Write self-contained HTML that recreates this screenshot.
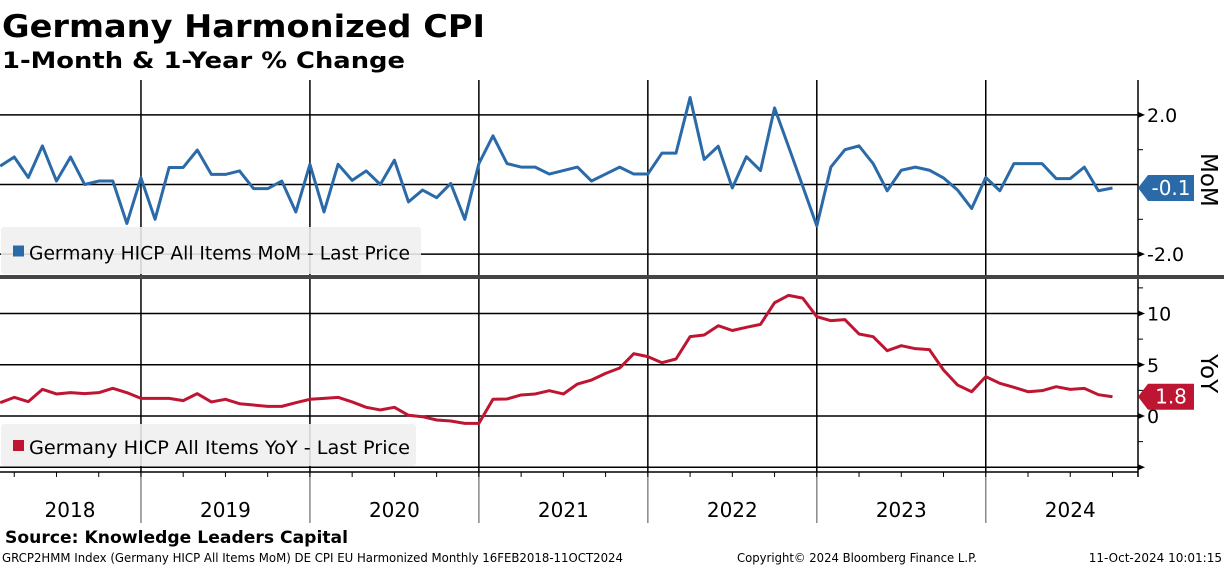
<!DOCTYPE html>
<html><head><meta charset="utf-8"><style>
body{margin:0;background:#fff;}
svg{display:block;font-family:"DejaVu Sans","Liberation Sans",sans-serif;}
</style></head><body>
<svg id="c" width="1224" height="566" xmlns="http://www.w3.org/2000/svg">
<text x="2" y="37" font-size="31" font-weight="bold" textLength="483" lengthAdjust="spacingAndGlyphs">Germany Harmonized CPI</text>
<text x="2" y="68" font-size="22" font-weight="bold" textLength="403" lengthAdjust="spacingAndGlyphs">1-Month &amp; 1-Year % Change</text>
<g id="grid"></g>
<g id="lines"></g>
<g id="overlay"></g>
<text x="5" y="543" font-size="17" font-weight="bold" textLength="343" lengthAdjust="spacingAndGlyphs">Source: Knowledge Leaders Capital</text>
<text x="2" y="562" font-size="12" textLength="621" lengthAdjust="spacingAndGlyphs">GRCP2HMM Index (Germany HICP All Items MoM) DE CPI EU Harmonized  Monthly 16FEB2018-11OCT2024</text>
<text x="737" y="562" font-size="12" textLength="240" lengthAdjust="spacingAndGlyphs">Copyright© 2024 Bloomberg Finance L.P.</text>
<text x="1222" y="562" font-size="12" text-anchor="end">11-Oct-2024 10:01:15</text>
</svg>
<script>
const years = ["2018","2019","2020","2021","2022","2023","2024"];
const momValues = [0.53,0.79,0.2,1.11,0.1,0.79,0.0,0.1,0.1,-1.12,0.19,-1.0,0.49,0.49,0.99,0.29,0.29,0.39,-0.12,-0.12,0.1,-0.79,0.58,-0.79,0.58,0.12,0.39,0.0,0.7,
-0.5,-0.16,-0.38,0.03,-1.0,0.6,1.4,0.6,0.5,0.5,0.3,0.4,0.5,0.1,0.3,0.5,0.3,0.3,0.9,0.9,2.5,0.72,1.1,-0.1,0.8,0.4,2.2,1.08,-0.05,-1.19,
0.5,1.0,1.11,0.6,-0.18,0.41,0.5,0.41,0.19,-0.16,-0.69,0.2,-0.18,0.6,0.6,0.6,0.17,0.17,0.5,-0.18,-0.1];
const yoyValues = [1.3,1.82,1.4,2.6,2.15,2.28,2.18,2.28,2.7,2.28,1.72,1.72,1.72,1.5,2.18,1.37,1.63,1.2,1.07,0.94,0.94,1.3,1.63,1.72,1.82,1.37,0.85,0.59,0.85,0.07,-0.07,-0.39,-0.49,-0.72,-0.72,1.63,
1.66,2.05,2.15,2.47,2.15,3.12,3.51,4.16,4.68,6.08,5.79,5.2,5.56,7.74,7.9,8.81,8.34,8.65,8.94,11.05,11.77,11.5,9.69,
9.3,9.4,8.0,7.74,6.37,6.86,6.57,6.47,4.49,3.02,2.37,3.84,3.19,2.8,2.37,2.47,2.86,2.6,2.7,2.08,1.88];
const momTicks = [2.0,-2.0];
const momTickLabels = ["2.0","-2.0"];
const yoyTicks = [10,5,0,-5];
const yoyTickLabels = ["10","5","0",""];
const momLast = "-0.1", yoyLast = "1.8";

const NS="http://www.w3.org/2000/svg";
function mk(p,t,a){const e=document.createElementNS(NS,t);for(const k in a)e.setAttribute(k,a[k]);p.appendChild(e);return e;}
const X0=-28, MW=14.08, AX=1138;
const xm = i => X0 + (i+2)*MW;
const yM = v => 184.5 - v*34.8;
const yY = v => 416 - v*10.25;
const grid=document.getElementById('grid'), lines=document.getElementById('lines'), ov=document.getElementById('overlay');

momTicks.concat([0]).forEach(v=>{const l=mk(grid,'line',{x1:0,x2:AX,y1:yM(v),y2:yM(v),stroke:'#000','stroke-width':1.5});

});
yoyTicks.forEach(v=>{const l=mk(grid,'line',{x1:0,x2:AX,y1:yY(v),y2:yY(v),stroke:'#000','stroke-width':1.5});

});
years.forEach((y,k)=>{
  const x=X0+k*12*MW;
  if(k>0){const l=mk(grid,'line',{x1:x,x2:x,y1:80,y2:472,stroke:'#000','stroke-width':1.5});
    
    
    const s=mk(grid,'line',{x1:x,x2:x,y1:472,y2:523,stroke:'#888','stroke-width':1.5});
    
    }
  let cx=x+6*MW; if(k===0) cx=70;
  const t=mk(grid,'text',{x:cx,y:517,'font-size':20,'text-anchor':'middle'});t.textContent=y;
  
  
});
const ba=mk(grid,'line',{x1:0,x2:AX,y1:472,y2:472,stroke:'#000','stroke-width':1.5});


for(let q=0;q<30;q++){const x=X0+q*3*MW; if(x<0||x>AX)continue; const t=mk(grid,'line',{x1:x,x2:x,y1:472,y2:477,stroke:'#000','stroke-width':1});

}
const ra=mk(grid,'line',{x1:AX,x2:AX,y1:80,y2:477,stroke:'#000','stroke-width':1.5});


[1,-1].forEach(v=>{const t=mk(grid,'line',{x1:AX,x2:AX+5,y1:yM(v),y2:yM(v),stroke:'#000'});

});
[12.5,7.5,2.5,-2.5].forEach(v=>{const t=mk(grid,'line',{x1:AX,x2:AX+5,y1:yY(v),y2:yY(v),stroke:'#000'});

});
momTicks.forEach((v,i)=>{
  const a=mk(grid,'path',{d:`M${AX} ${yM(v)-3}L${AX+7} ${yM(v)}L${AX} ${yM(v)+3}Z`,fill:'#000'});
  
  
  const t=mk(grid,'text',{x:AX+9,y:yM(v)+7,'font-size':19});t.textContent=momTickLabels[i];
  
  });
yoyTicks.forEach((v,i)=>{
  const a=mk(grid,'path',{d:`M${AX} ${yY(v)-3}L${AX+7} ${yY(v)}L${AX} ${yY(v)+3}Z`,fill:'#000'});
  
  
  const t=mk(grid,'text',{x:AX+9,y:yY(v)+7,'font-size':19});t.textContent=yoyTickLabels[i];
  
  });
const at1=mk(grid,'text',{x:0,y:0,'font-size':23,transform:'translate(1201,153) rotate(90)'});at1.textContent='MoM';


const at2=mk(grid,'text',{x:0,y:0,'font-size':23,transform:'translate(1201,354) rotate(90)'});at2.textContent='YoY';



const pm=mk(lines,'polyline',{points:momValues.map((v,i)=>xm(i)+','+yM(v)).join(' '),fill:'none',stroke:'#2b6aa8','stroke-width':3,'stroke-linejoin':'round'});


const py=mk(lines,'polyline',{points:yoyValues.map((v,i)=>xm(i)+','+yY(v)).join(' '),fill:'none',stroke:'#be1632','stroke-width':3,'stroke-linejoin':'round'});



const sep=mk(ov,'rect',{x:0,y:275,width:1224,height:4,fill:'#444'});



function legend(y,h,w,col,txt,name){
  const g=mk(ov,'g',{});
  
  
  mk(g,'rect',{x:1,y:y,width:w,height:h,rx:3,fill:'#efefef','fill-opacity':0.88});
  mk(g,'rect',{x:13,y:y+h/2-5,width:11,height:11,fill:col});
  const t=mk(g,'text',{x:29,y:y+h/2+9,'font-size':19,textLength:381,lengthAdjust:'spacingAndGlyphs'});t.textContent=txt;
}
legend(227,47,420,'#2b6aa8','Germany HICP All Items MoM - Last Price','mom-legend');
legend(424,42,415,'#be1632','Germany HICP All Items YoY - Last Price','yoy-legend');

function tag(y,col,txt,name){
  const g=mk(ov,'g',{});
  
  
  mk(g,'path',{d:`M${AX} ${y}L${AX+10} ${y-13}L${AX+56} ${y-13}L${AX+56} ${y+13}L${AX+10} ${y+13}Z`,fill:col});
  const t=mk(g,'text',{x:AX+33,y:y+7,'font-size':20,fill:'#fff','text-anchor':'middle'});t.textContent=txt;
}
tag(yM(momValues[momValues.length-1]),'#2b6aa8',momLast,'mom-last-value-tag');
tag(yY(yoyValues[yoyValues.length-1]),'#be1632',yoyLast,'yoy-last-value-tag');
</script>
</body></html>
